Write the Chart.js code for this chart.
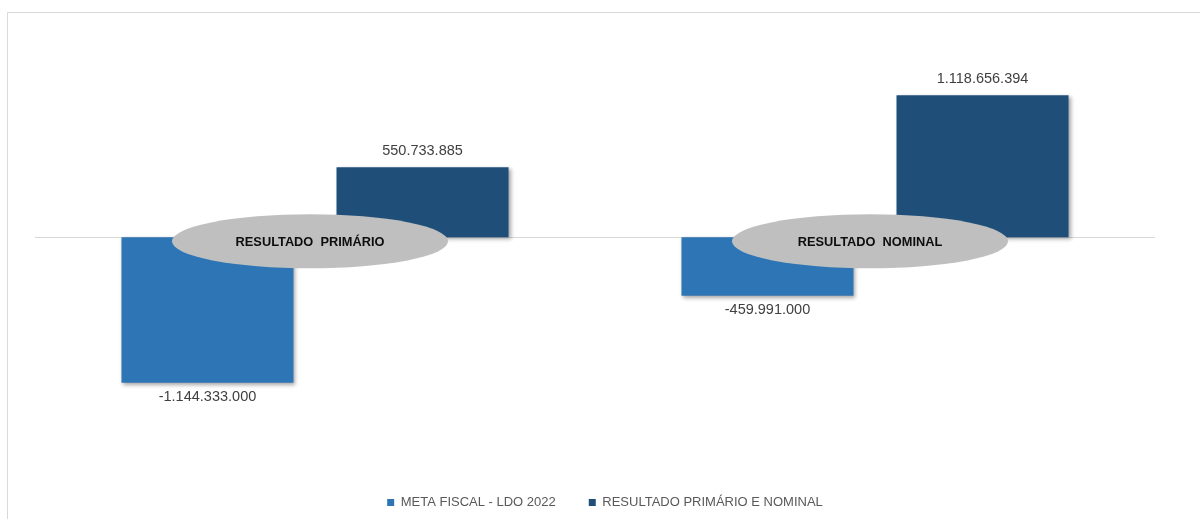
<!DOCTYPE html>
<html>
<head>
<meta charset="utf-8">
<script src="https://cdn.jsdelivr.net/npm/chart.js@4.4.1/dist/chart.umd.min.js"></script>
<style>
html,body{margin:0;padding:0;background:#fff;overflow:hidden;}
#wrap{width:1200px;height:519px;position:relative;}
</style>
</head>
<body>
<div id="wrap"><canvas id="c" width="1200" height="519"></canvas></div>
<script>
const categories = ["RESULTADO  PRIMÁRIO", "RESULTADO  NOMINAL"];
const seriesNames = ["META FISCAL - LDO 2022", "RESULTADO PRIMÁRIO E NOMINAL"];
const metaFiscal = [-1144333000, -459991000];
const resultado = [550733885, 1118656394];
const seriesColors = ["#2E75B6", "#1F4E79"];

function fmt(v){
  const neg = v < 0;
  const s = Math.abs(Math.round(v)).toString().replace(/\B(?=(\d{3})+(?!\d))/g, ".");
  return (neg ? "-" : "") + s;
}

const decor = {
  id: 'decor',
  beforeDraw(chart){
    const ctx = chart.ctx;
    ctx.save();
    ctx.strokeStyle = '#d9d9d9';
    ctx.lineWidth = 1;
    ctx.beginPath();
    ctx.moveTo(7.5, 519);
    ctx.lineTo(7.5, 12.5);
    ctx.lineTo(1200, 12.5);
    ctx.stroke();
    ctx.restore();
  },
  beforeDatasetsDraw(chart){
    const ctx = chart.ctx, a = chart.chartArea;
    const y0 = Math.round(chart.scales.y.getPixelForValue(0)) + 0.5;
    ctx.save();
    ctx.strokeStyle = '#d9d9d9';
    ctx.lineWidth = 1;
    ctx.beginPath();
    ctx.moveTo(a.left, y0);
    ctx.lineTo(a.right, y0);
    ctx.stroke();
    ctx.restore();
    ctx.save();
    ctx.shadowColor = 'rgba(0,0,0,0.35)';
    ctx.shadowBlur = 4;
    ctx.shadowOffsetX = 2;
    ctx.shadowOffsetY = 2;
  },
  afterDatasetsDraw(chart){
    const ctx = chart.ctx;
    ctx.restore();
    const y0 = chart.scales.y.getPixelForValue(0);
    chart.data.labels.forEach((lab, i) => {
      const cx = chart.scales.x.getPixelForValue(i) - 5;
      const cy = y0 + 4;
      ctx.save();
      ctx.fillStyle = '#bfbfbf';
      ctx.beginPath();
      ctx.ellipse(cx, cy, 138, 27, 0, 0, Math.PI*2);
      ctx.fill();
      ctx.fillStyle = '#0d0d0d';
      ctx.font = 'bold 12.8px "Liberation Sans", Arial, sans-serif';
      ctx.textAlign = 'center';
      ctx.textBaseline = 'middle';
      ctx.fillText(lab, cx, cy + 1);
      ctx.restore();
    });
    ctx.save();
    ctx.fillStyle = '#404040';
    ctx.font = '14.5px "Liberation Sans", Arial, sans-serif';
    ctx.textAlign = 'center';
    ctx.textBaseline = 'middle';
    chart.data.datasets.forEach((ds, di) => {
      const meta = chart.getDatasetMeta(di);
      meta.data.forEach((bar, i) => {
        const v = ds.data[i];
        const y = v >= 0 ? bar.y - 16 : bar.y + 14;
        ctx.fillText(fmt(v), bar.x, y);
      });
    });
    ctx.restore();
  }
};

new Chart(document.getElementById('c'), {
  type: 'bar',
  data: {
    labels: categories,
    datasets: [
      { label: seriesNames[0], data: metaFiscal, backgroundColor: seriesColors[0] },
      { label: seriesNames[1], data: resultado, backgroundColor: seriesColors[1] }
    ]
  },
  options: {
    responsive: false,
    animation: false,
    devicePixelRatio: 1,
    layout: { padding: { top: 34, left: 35, right: 25, bottom: 0 } },
    datasets: { bar: { categoryPercentage: 0.768, barPercentage: 0.8 } },
    scales: {
      x: { display: false, offset: true },
      y: {
        position: 'right',
        min: -1776000000,
        max: 1600000000,
        display: true,
        grid: { display: false, drawTicks: false },
        border: { display: false },
        ticks: { display: false },
        afterFit(s){ s.width = 20; }
      }
    },
    plugins: {
      legend: {
        position: 'bottom',
        labels: {
          boxWidth: 7,
          boxHeight: 7,
          padding: 33,
          color: '#595959',
          font: { family: '"Liberation Sans", Arial, sans-serif', size: 13 }
        }
      },
      tooltip: { enabled: false }
    }
  },
  plugins: [decor]
});
</script>
</body>
</html>
